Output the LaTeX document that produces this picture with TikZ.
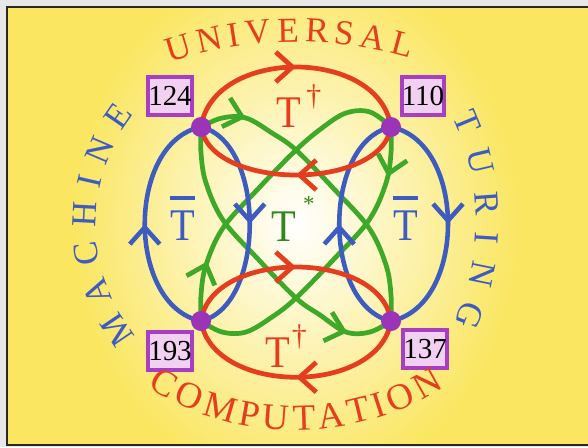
\documentclass[tikz,border=0pt]{standalone}
\usepackage{fontspec}
\setmainfont{Liberation Serif}
\usetikzlibrary{arrows.meta, decorations.markings, decorations.text, positioning}
\definecolor{bgyellow}{RGB}{250,230,96}
\definecolor{framegray}{RGB}{232,232,232}
\definecolor{framedark}{RGB}{40,40,40}
\definecolor{redline}{RGB}{228,62,30}
\definecolor{blueline}{RGB}{62,92,192}
\definecolor{greenline}{RGB}{62,168,40}
\definecolor{hubpurple}{RGB}{156,52,184}
\definecolor{tagpurple}{RGB}{168,62,196}
\definecolor{tagfill}{RGB}{242,208,242}
\tikzset{
  redarc/.style={draw=redline, line width=2.7pt},
  bluearc/.style={draw=blueline, line width=2.6pt},
  greenarc/.style={draw=greenline, line width=2.7pt},
  flowat/.style={postaction={decorate, decoration={markings,
      mark=at position #1 with {\arrow{Straight Barb[length=9.5pt, width=17pt]}}}}},
  hubdot/.style={circle, fill=hubpurple, inner sep=0pt, minimum size=0.4cm},
  tagbox/.style={rectangle, draw=tagpurple, line width=2.2pt, fill=tagfill,
                 inner sep=0pt, minimum width=0.84cm, minimum height=0.76cm,
                 font=\fontsize{16.5}{16.5}\selectfont},
  bigletter/.style={inner sep=0pt, anchor=base west, font=\fontsize{23}{23}\selectfont},
  arcword/.style={decorate, decoration={text along path, text align=fit to path}},
}
\newcommand{\tallT}{\scalebox{1}[1.12]{T}}

\begin{document}
\begin{tikzpicture}[x=0.02cm, y=-0.02cm]
  \useasboundingbox (0,0) rectangle (588,447);

  % Frame and glow
  \fill[framegray] (0,0) rectangle (588,447);
  \fill[bgyellow] (7,7) rectangle (588,445);
  \begin{scope}
    \clip (7,7) rectangle (588,445);
    \shade[inner color=white, outer color=bgyellow] (296,224) ellipse [x radius=225, y radius=265];
  \end{scope}
  \draw[framedark, line width=1.2pt] (588,7) -- (7,7) -- (7,445) -- (588,445);

  % Corner states
  \coordinate (c124) at (201,127);
  \coordinate (c110) at (391,127);
  \coordinate (c193) at (201,321);
  \coordinate (c137) at (391,321);

  % Green lenses
  \draw[greenarc, flowat=0.19] plot[smooth, tension=0.6] coordinates
    {(c193) (201,295) (206,265) (223,228) (257,190) (296,150) (322,128) (346,113) (370,112) (c110)};
  \draw[greenarc, flowat=0.16] plot[smooth, tension=0.6] coordinates
    {(c110) (391,153) (386,183) (369,220) (335,258) (296,298) (272,317) (246,332) (222,332) (c193)};
  \draw[greenarc, flowat=0.15] plot[smooth, tension=0.6] coordinates
    {(c124) (222,118) (246,118) (272,133) (296,150) (335,190) (369,228) (386,265) (391,295) (c137)};
  \draw[greenarc, flowat=0.85] plot[smooth, tension=0.6] coordinates
    {(c124) (201,153) (206,183) (223,220) (257,258) (296,298) (320,315) (346,332) (370,332) (c137)};

  % Blue loops
  \draw[bluearc, flowat=0.5] (c193) .. controls +(-75,-15) and +(-75,15) .. (c124);
  \draw[bluearc, flowat=0.5] (c124) .. controls +(65,15) and +(65,-15) .. (c193);
  \draw[bluearc, flowat=0.5] (c137) .. controls +(-69,-15) and +(-69,15) .. (c110);
  \draw[bluearc, flowat=0.5] (c110) .. controls +(76,15) and +(76,-15) .. (c137);

  % Red loops
  \draw[redarc, flowat=0.5] (c124) .. controls +(12,-80) and +(-12,-80) .. (c110);
  \draw[redarc, flowat=0.5] (c110) .. controls +(-10,64) and +(10,64) .. (c124);
  \draw[redarc, flowat=0.5] (c193) .. controls +(10,-72) and +(-10,-72) .. (c137);
  \draw[redarc, flowat=0.5] (c137) .. controls +(-12,75) and +(12,75) .. (c193);

  % Dots and tags
  \node[hubdot] (d124) at (c124) {};
  \node[hubdot] (d110) at (c110) {};
  \node[hubdot] (d193) at (c193) {};
  \node[hubdot] (d137) at (c137) {};
  \node[tagbox] (b124) at (170,96) {124};
  \node[tagbox] (b110) at (423,96) {110};
  \node[tagbox] (b193) at (170,351) {193};
  \node[tagbox] (b137) at (425,349) {137};

  % Operator labels
  \node[bigletter, text=redline] (tdagtop) at (276,127)
    {\tallT\hspace{3pt}\raisebox{12pt}{\fontsize{17}{17}\selectfont †}};
  \node[bigletter, text=redline] (tdagbot) at (265,367)
    {\tallT\hspace{1pt}\raisebox{12pt}{\fontsize{17}{17}\selectfont †}};
  \node[bigletter, text=blueline] (tbarleft) at (170,240) {\rlap{\rule[23pt]{14pt}{2.2pt}}\tallT};
  \node[bigletter, text=blueline] (tbarright) at (393,240) {\rlap{\rule[23pt]{14pt}{2.2pt}}\tallT};
  \node[bigletter, text=greenline!80!black] (tstar) at (271,241)
    {\tallT\hspace{4pt}\raisebox{17pt}{\fontsize{13}{13}\selectfont *}};

  % Words round the edge
  \path[arcword, decoration={text color=redline, text={|\fontsize{20}{20}\selectfont|UNIVERSAL}}]
    (296,440) ++(-108.5:398) arc[start angle=-108.5, end angle=-73.4, radius=398];
  \path[arcword, decoration={text color=blueline, text={|\fontsize{20}{20}\selectfont|MACHINE}}]
    (274,224) ++(141:178) arc[start angle=141, end angle=218, radius=178];
  \path[arcword, decoration={text color=blueline, text={|\fontsize{20}{20}\selectfont|TURING}}]
    (227,222) ++(-25:249) arc[start angle=-25, end angle=24, radius=249];
  \path[arcword, decoration={text color=redline, text={|\fontsize{21}{21}\selectfont|COMPUTATION}}]
    (296,150) ++(122:280) arc[start angle=122, end angle=58, radius=280];
\end{tikzpicture}
\end{document}
